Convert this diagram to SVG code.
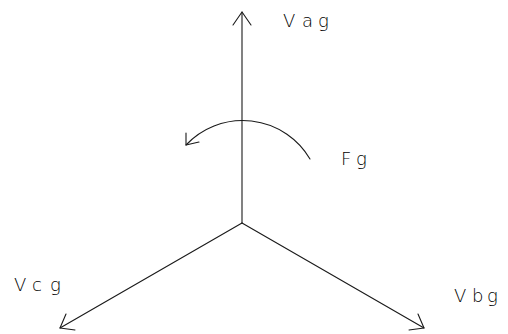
<svg xmlns="http://www.w3.org/2000/svg" width="508" height="334" viewBox="0 0 508 334">
<style>
.ln{fill:none;stroke:#1a1a1a;stroke-width:1.1;stroke-linecap:round;stroke-linejoin:round}
.lb{font-family:"DejaVu Sans","Liberation Sans",sans-serif;font-weight:200;font-size:18px;fill:#000}
</style>
<rect width="508" height="334" fill="#fff"/>
<g id="connectors">
<path class="ln" d="M242,223 L242,12"/>
<path class="ln" d="M233,25 L242,12 L251,25"/>
<path class="ln" d="M242,223 L60,328"/>
<path class="ln" d="M66,314 L60,328 L75,330"/>
<path class="ln" d="M242,223 L424,328"/>
<path class="ln" d="M418,314 L424,328 L409,330"/>
<path class="ln" d="M310,159 A78,78 0 0 0 186,145"/>
<path class="ln" d="M186,133 L186,145 L199,142"/>
</g>
<g id="Vag"><text class="lb" x="283 302 318" y="27">Vag</text></g>
<g id="Fg"><text class="lb" x="341 356" y="165">Fg</text></g>
<g id="Vcg"><text class="lb" x="14 32 50" y="291">Vcg</text></g>
<g id="Vbg"><text class="lb" x="454 472 487" y="302">Vbg</text></g>
</svg>
